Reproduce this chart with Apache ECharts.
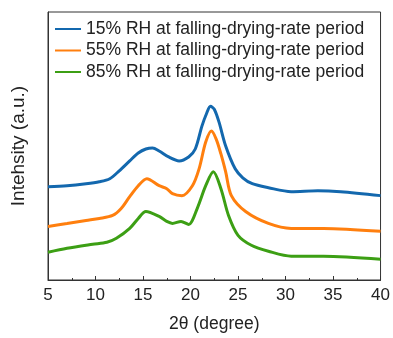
<!DOCTYPE html>
<html>
<head>
<meta charset="utf-8">
<script src="https://cdn.jsdelivr.net/npm/echarts@6/dist/echarts.min.js"></script>
<style>
  html, body { margin: 0; padding: 0; background: #fff; }
  #chart { width: 393px; height: 338px; }
</style>
</head>
<body>
<div id="chart"></div>
<script>
// 各曲线的数据（读自原图，任意单位）
const seriesNames = [
  '15% RH at falling-drying-rate period',
  '55% RH at falling-drying-rate period',
  '85% RH at falling-drying-rate period'
]
const colors = ['#1368ae', '#ff7f0e', '#3c9f14']

const rh15 = [
  [5, 94], [7, 95], [9, 97], [10.4, 99], [11.5, 102], [12.5, 110], [13.6, 120],
  [14.5, 128], [15.3, 132], [16, 133], [16.7, 130], [17.7, 124], [18.8, 120],
  [19.8, 124], [20.5, 132], [21.2, 155], [21.7, 168], [22.1, 175], [22.5, 172],
  [23, 159], [23.7, 135], [24.7, 112], [25.5, 103], [26.5, 97], [28.2, 93],
  [30.6, 89], [33.4, 90], [35.8, 89], [40, 85]
]
const rh55 = [
  [5, 54], [7, 57], [9, 60], [10.4, 62], [11.8, 65], [12.7, 72], [13.6, 84],
  [14.5, 95], [15.4, 102], [16.7, 95], [17.5, 92], [18.1, 87], [19.1, 85],
  [20.2, 95], [20.9, 112], [21.6, 139], [22.2, 150], [22.7, 142], [23.2, 127],
  [23.7, 109], [24.3, 85], [25.8, 69], [28.2, 57], [30.6, 52], [34, 52], [40, 49]
]
const rh85 = [
  [5, 28], [7, 32], [9.7, 36], [11.2, 38], [12.2, 42], [13.6, 52], [14.5, 62],
  [15.3, 69], [16.7, 64], [17.5, 59], [18.1, 57], [19, 59], [19.8, 56],
  [20.7, 72], [21.6, 95], [22.4, 109], [23.2, 92], [24, 65], [25, 45],
  [26.4, 35], [28.2, 29], [30.6, 24], [34, 24], [40, 21]
]
const allData = [rh15, rh55, rh85]

const chart = echarts.init(document.getElementById('chart'))
const font = 'Liberation Sans, Arial, sans-serif'

const option = {
  animation: false,
  grid: {
    left: 48, right: 10, top: 12, bottom: 56,
    show: true, borderColor: '#333', borderWidth: 1
  },
  legend: {
    orient: 'vertical',
    left: 50, top: 15,
    itemWidth: 26, itemHeight: 2, itemGap: 3.5,
    icon: 'rect',
    textStyle: { fontFamily: font, fontSize: 17.5, lineHeight: 18, color: '#222' },
    data: seriesNames
  },
  xAxis: {
    type: 'value',
    min: 5, max: 40, interval: 5,
    name: '2θ (degree)',
    nameLocation: 'middle',
    nameGap: 35,
    nameTextStyle: { fontFamily: font, fontSize: 17.5, color: '#222' },
    axisLine: { show: true, lineStyle: { color: '#333' } },
    axisTick: { inside: true, length: 4, lineStyle: { color: '#333' } },
    minorTick: { show: true, splitNumber: 2, length: 2, lineStyle: { color: '#333' } },
    axisLabel: { fontFamily: font, fontSize: 17, color: '#222', margin: 7 },
    splitLine: { show: false }
  },
  yAxis: {
    type: 'value',
    min: 0, max: 270,
    name: 'Intehsity (a.u.)',
    nameLocation: 'middle',
    nameGap: 20,
    nameTextStyle: { fontFamily: font, fontSize: 19, color: '#222' },
    axisLine: { show: true, lineStyle: { color: '#333' } },
    axisTick: { show: false },
    axisLabel: { show: false },
    splitLine: { show: false }
  },
  series: allData.map((d, i) => ({
    name: seriesNames[i],
    type: 'line',
    data: d,
    smooth: 0.3,
    symbol: 'none',
    color: colors[i],
    lineStyle: { width: 3, color: colors[i] }
  }))
}

chart.setOption(option)
</script>
</body>
</html>
